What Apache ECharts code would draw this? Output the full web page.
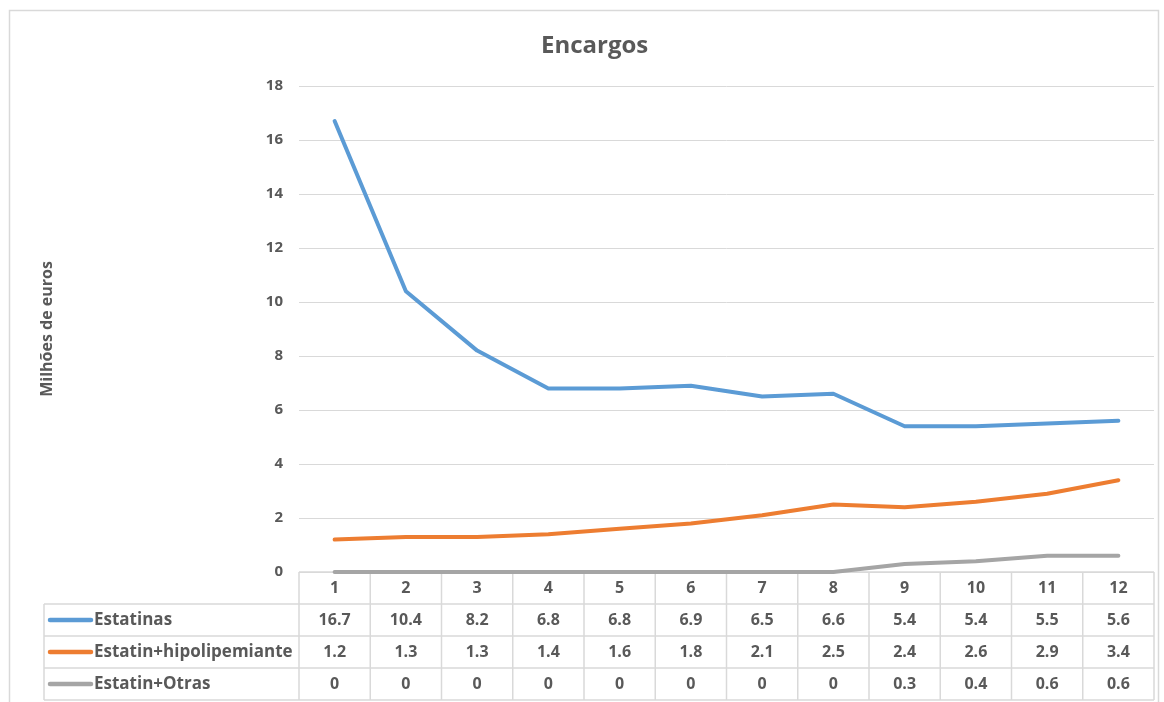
<!DOCTYPE html>
<html>
<head>
<meta charset="utf-8">
<title>Encargos</title>
<script src="https://cdn.jsdelivr.net/npm/echarts@6/dist/echarts.min.js"></script>
<style>
  html, body { margin: 0; padding: 0; background: #fff; }
  #chart { width: 1164px; height: 702px; }
</style>
</head>
<body>
<div id="chart"></div>
<script>
// Periods shown along the x axis and in the header row of the data table
const categories = ['1', '2', '3', '4', '5', '6', '7', '8', '9', '10', '11', '12'];

// Series (millions of euros)
const seriesNames = ['Estatinas', 'Estatin+hipolipemiante', 'Estatin+Otras'];
const estatinas = [16.7, 10.4, 8.2, 6.8, 6.8, 6.9, 6.5, 6.6, 5.4, 5.4, 5.5, 5.6];
const estatinHipolipemiante = [1.2, 1.3, 1.3, 1.4, 1.6, 1.8, 2.1, 2.5, 2.4, 2.6, 2.9, 3.4];
const estatinOtras = [0, 0, 0, 0, 0, 0, 0, 0, 0.3, 0.4, 0.6, 0.6];

// Y axis ticks
const yTicks = [0, 2, 4, 6, 8, 10, 12, 14, 16, 18];

const seriesValues = [estatinas, estatinHipolipemiante, estatinOtras];
const colors = ['#5b9bd5', '#ed7d31', '#a5a5a5'];
const textColor = '#595959';
const lineColor = '#d9d9d9';
const font = '"Open Sans", "Noto Sans", sans-serif';

const chart = echarts.init(document.getElementById('chart'), null, { renderer: 'canvas' });

chart.setOption({
  animation: false,
  backgroundColor: '#ffffff',
  title: {
    text: 'Encargos',
    left: 536,
    top: 29,
    textStyle: { color: textColor, fontSize: 24, fontWeight: 'bold', fontFamily: font }
  },
  grid: { left: 299, right: 10, top: 86, bottom: 130 },
  xAxis: {
    type: 'category',
    data: categories,
    boundaryGap: true,
    axisLine: { show: false },
    axisTick: { show: false },
    axisLabel: { show: false }
  },
  yAxis: {
    type: 'value',
    min: yTicks[0],
    max: yTicks[yTicks.length - 1],
    interval: yTicks[1] - yTicks[0],
    name: 'Milhões de euros',
    nameLocation: 'middle',
    nameRotate: 90,
    nameGap: 244,
    nameTextStyle: { color: textColor, fontSize: 16, fontWeight: 'bold', fontFamily: font },
    axisLine: { show: false },
    axisTick: { show: false },
    axisLabel: { color: textColor, fontSize: 15, fontWeight: 'bold', fontFamily: font, margin: 16 },
    splitLine: { lineStyle: { color: lineColor, width: 1 } }
  },
  series: seriesNames.map((name, i) => ({
    name: name,
    type: 'line',
    data: seriesValues[i],
    symbol: 'none',
    z: 5,
    lineStyle: { color: colors[i], width: 4, cap: 'round', join: 'round' }
  }))
});

// Data table below the plot, aligned to the category bands of the x axis
function buildTable() {
  const top = chart.convertToPixel({ yAxisIndex: 0 }, 0);
  const c0 = chart.convertToPixel({ xAxisIndex: 0 }, 0);
  const c1 = chart.convertToPixel({ xAxisIndex: 0 }, 1);
  const band = c1 - c0;
  const colLeft = c0 - band / 2;
  const colRight = chart.convertToPixel({ xAxisIndex: 0 }, categories.length - 1) + band / 2;
  const rowH = 32;
  const labelLeft = 44;
  const els = [];
  const stroke = { stroke: lineColor, lineWidth: 1.5 };
  const txt = (x, y, s, align, size) => ({
    type: 'text', x: x, y: y, z: 3,
    style: { text: s, fill: textColor, font: 'bold ' + (size || 16) + 'px ' + font, align: align || 'center', verticalAlign: 'middle' }
  });
  const line = (x1, y1, x2, y2) => ({ type: 'line', z: 2, shape: { x1, y1, x2, y2 }, style: stroke });

  // Header row: category numbers
  categories.forEach((c, i) => {
    els.push(txt(chart.convertToPixel({ xAxisIndex: 0 }, i), top + rowH / 2, c));
  });
  // Body rows: legend key + values
  seriesNames.forEach((name, r) => {
    const cy = top + rowH * (r + 1.5);
    els.push({
      type: 'line', z: 3,
      shape: { x1: labelLeft + 6, y1: cy, x2: labelLeft + 47, y2: cy },
      style: { stroke: colors[r], lineWidth: 4.5, lineCap: 'round' }
    });
    els.push(txt(labelLeft + 50, cy, name, 'left', 17));
    seriesValues[r].forEach((v, i) => {
      els.push(txt(chart.convertToPixel({ xAxisIndex: 0 }, i), cy, String(v)));
    });
  });
  // Horizontal rules
  els.push(line(colLeft, top, colRight, top));
  for (let r = 1; r <= 4; r++) {
    els.push(line(labelLeft, top + rowH * r, colRight, top + rowH * r));
  }
  // Vertical rules
  els.push(line(labelLeft, top + rowH, labelLeft, top + rowH * 4));
  for (let i = 0; i <= categories.length; i++) {
    const x = colLeft + band * i;
    els.push(line(x, top, x, top + rowH * 4));
  }
  // Chart frame
  els.push({
    type: 'rect', z: 1,
    shape: { x: 9.5, y: 10.5, width: 1149, height: 720 },
    style: { fill: null, stroke: lineColor, lineWidth: 1.5 }
  });
  chart.setOption({ graphic: { elements: els } });
}
buildTable();
</script>
</body>
</html>
